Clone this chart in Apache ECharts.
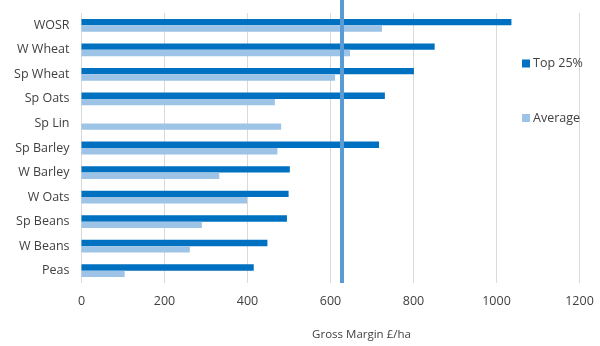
<!DOCTYPE html>
<html>
<head>
<meta charset="utf-8">
<script src="https://cdn.jsdelivr.net/npm/echarts@6/dist/echarts.min.js"></script>
<style>
  html, body { margin: 0; padding: 0; background: #fff; }
  #chart { width: 600px; height: 346px; }
</style>
</head>
<body>
<div id="chart"></div>
<script>
// Gross margin by crop, top-quartile farms vs the average
const crops = ['WOSR', 'W Wheat', 'Sp Wheat', 'Sp Oats', 'Sp Lin', 'Sp Barley',
               'W Barley', 'W Oats', 'Sp Beans', 'W Beans', 'Peas'];
const top25 = [1036, 851, 801, 731, null, 717, 502, 499, 495, 448, 415];
const average = [724, 647, 611, 466, 481, 472, 332, 399, 290, 261, 104];
const benchmark = 627;   // reference margin drawn as a vertical rule
const xTicks = [0, 200, 400, 600, 800, 1000, 1200];

const FONT = '"Open Sans", "Noto Sans", sans-serif';
const TEXT = '#404040';
const DARK = '#0070C0';
const LIGHT = '#9DC3E6';
const RULE = '#5B9BD5';

const chart = echarts.init(document.getElementById('chart'), null, { renderer: 'canvas' });

chart.setOption({
  animation: false,
  backgroundColor: '#ffffff',
  textStyle: { fontFamily: FONT, color: TEXT },
  legend: {
    orient: 'vertical',
    left: 517,
    top: 52,
    itemWidth: 8,
    itemHeight: 8,
    itemGap: 41.5,
    icon: 'rect',
    textStyle: { fontFamily: FONT, fontSize: 12.5, color: TEXT, padding: [0, 0, 0, -2] },
    data: ['Top 25%', 'Average']
  },
  grid: [
    { left: 81.5, right: 20.5, top: 13, bottom: 63, containLabel: false },
    { left: 81.5, right: 20.5, top: 0, bottom: 63, containLabel: false }
  ],
  xAxis: [
    {
      gridIndex: 0,
      type: 'value',
      min: xTicks[0],
      max: xTicks[xTicks.length - 1],
      interval: 200,
      name: 'Gross Margin £/ha',
      nameLocation: 'middle',
      nameGap: 46,
      nameTextStyle: { fontFamily: FONT, fontSize: 11.5, color: TEXT, padding: [0, 0, 0, 62] },
      axisLine: { show: false },
      axisTick: { show: false },
      axisLabel: {
        fontFamily: FONT, fontSize: 12.5, color: TEXT, margin: 12,
        formatter: v => String(v)
      },
      splitLine: { show: true, lineStyle: { color: '#d9d9d9', width: 1 } }
    },
    {
      gridIndex: 1,
      type: 'value',
      min: xTicks[0],
      max: xTicks[xTicks.length - 1],
      show: false
    }
  ],
  yAxis: [
    {
      gridIndex: 0,
      type: 'category',
      data: crops,
      inverse: true,
      axisLine: { show: false },
      axisTick: { show: false },
      axisLabel: { fontFamily: FONT, fontSize: 12.5, color: TEXT, margin: 12 },
      splitLine: { show: false }
    },
    {
      gridIndex: 1,
      type: 'value',
      min: 0,
      max: 1,
      show: false
    }
  ],
  series: [
    {
      name: 'Top 25%',
      type: 'bar',
      xAxisIndex: 0,
      yAxisIndex: 0,
      data: top25,
      itemStyle: { color: DARK },
      barGap: '0%',
      barCategoryGap: '48%'
    },
    {
      name: 'Average',
      type: 'bar',
      xAxisIndex: 0,
      yAxisIndex: 0,
      data: average,
      itemStyle: { color: LIGHT },
      barGap: '0%',
      barCategoryGap: '48%'
    },
    {
      name: 'benchmark',
      type: 'line',
      xAxisIndex: 1,
      yAxisIndex: 1,
      data: [],
      z: 5,
      markLine: {
        silent: true,
        symbol: ['none', 'none'],
        label: { show: false },
        lineStyle: { color: RULE, width: 4, type: 'solid' },
        data: [{ xAxis: benchmark }]
      }
    }
  ]
});
</script>
</body>
</html>
